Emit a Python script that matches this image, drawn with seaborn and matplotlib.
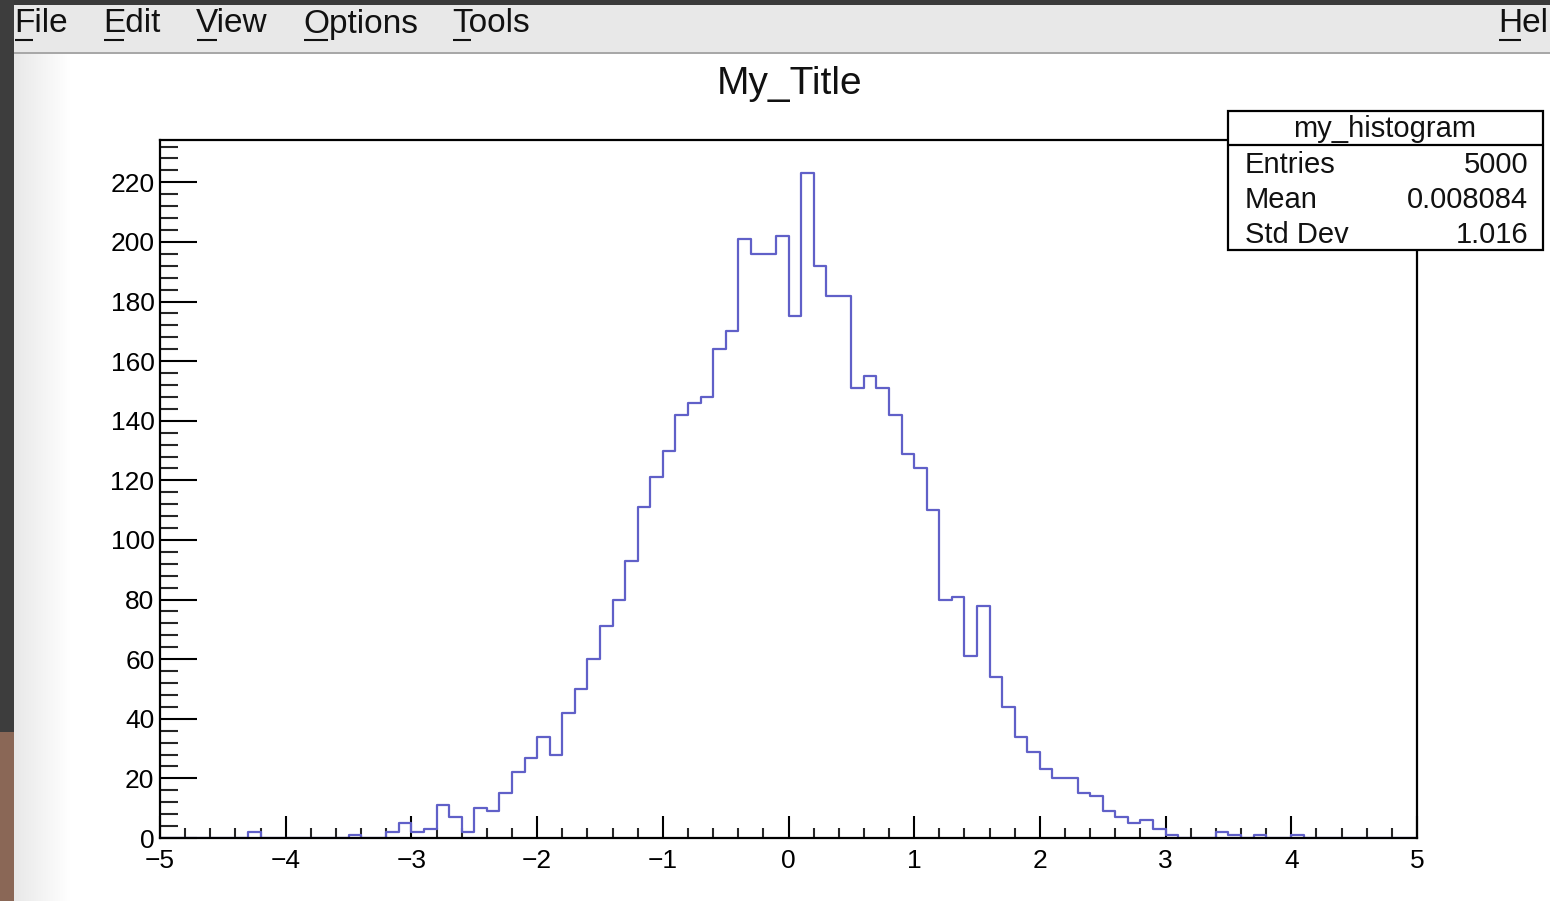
import numpy as np
import pandas as pd
import matplotlib
matplotlib.use('Agg')
import matplotlib.pyplot as plt
import seaborn as sns
from matplotlib.patches import Rectangle
from matplotlib.ticker import MultipleLocator
from matplotlib.colors import LinearSegmentedColormap

# ---------------- data ----------------
x_min, x_max = -5.0, 5.0
n_bins = 100
counts = [
    0, 0, 0, 0, 0, 0, 0, 2, 0, 0,          # -5.0 .. -4.1
    0, 0, 0, 0, 0, 1, 0, 0, 2, 5,          # -4.0 .. -3.1
    2, 3, 11, 7, 2, 10, 9, 15, 22, 27,     # -3.0 .. -2.1
    34, 28, 42, 50, 60, 71, 80, 93, 111, 121,   # -2.0 .. -1.1
    130, 142, 146, 148, 164, 170, 201, 196, 196, 202,  # -1.0 .. -0.1
    175, 223, 192, 182, 182, 151, 155, 151, 142, 129,  # 0.0 .. 0.9
    124, 110, 80, 81, 61, 78, 54, 44, 34, 29,  # 1.0 .. 1.9
    23, 20, 20, 15, 14, 9, 7, 5, 6, 3,     # 2.0 .. 2.9
    1, 0, 0, 0, 2, 1, 0, 1, 0, 0,          # 3.0 .. 3.9
    1, 0, 0, 0, 0, 0, 0, 0, 0, 0,          # 4.0 .. 4.9
]
title = "My_Title"
stats_name = "my_histogram"
stats_labels = ["Entries", "Mean", "Std Dev"]
stats_values = ["5000", "0.008084", "1.016"]
menu_items = ["File", "Edit", "View", "Options", "Tools", "Hel"]
menu_x = [14, 103, 196, 303, 452, 1498]
y_max = 234.2

bin_width = (x_max - x_min) / n_bins
centers = x_min + bin_width * (np.arange(n_bins) + 0.5)
df = pd.DataFrame({"x": centers, "count": counts})

# ---------------- style ----------------
sns.set_style("white")
plt.rcParams['font.family'] = ['Liberation Sans', 'DejaVu Sans']

W, H = 1550, 901
fig = plt.figure(figsize=(W / 100, H / 100), dpi=100)
fig.patch.set_facecolor('white')

# background / window chrome (pixel coordinates)
bg = fig.add_axes([0, 0, 1, 1], zorder=0)
bg.axis('off')
grad = np.linspace(0, 1, 256)[None, :]
cmap = LinearSegmentedColormap.from_list('g', ['#e8e8e8', '#ffffff'])
bg.imshow(grad, extent=[14, 70, H, 54], cmap=cmap, aspect='auto', zorder=0)
bg.set_xlim(0, W)
bg.set_ylim(H, 0)
bg.add_patch(Rectangle((0, 0), W, 54, facecolor='#e8e8e8', edgecolor='none', zorder=1))
bg.add_patch(Rectangle((0, 0), W, 5, facecolor='#3a3a3a', edgecolor='none', zorder=2))
bg.add_patch(Rectangle((0, 51.5), W, 2.5, facecolor='#a8a8a8', edgecolor='none', zorder=2))
bg.add_patch(Rectangle((0, 0), 14, 732, facecolor='#3d3d3d', edgecolor='none', zorder=3))
bg.add_patch(Rectangle((0, 732), 14, H - 732, facecolor='#8a6756', edgecolor='none', zorder=3))

menu_fs = 24
menu_y = 24
for item, mx in zip(menu_items, menu_x):
    bg.text(mx, menu_y, item, ha='left', va='center', fontsize=menu_fs, color='#111111', zorder=4)

bg.text(790, 84, title, ha='center', va='center', fontsize=28, color='#111111', zorder=4)

# main plot area
ax = fig.add_axes([160 / W, (H - 838) / H, (1417 - 160) / W, (838 - 140) / H], zorder=2)
ax.set_facecolor('white')
sns.histplot(data=df, x="x", weights="count", bins=n_bins, binrange=(x_min, x_max),
             element="step", fill=False, color="#6060c8", linewidth=1.6, ax=ax)
ax.set_xlim(x_min, x_max)
ax.set_ylim(0, y_max)
ax.set_xlabel("")
ax.set_ylabel("")
ax.xaxis.set_major_locator(MultipleLocator(1))
ax.xaxis.set_minor_locator(MultipleLocator(0.2))
ax.yaxis.set_major_locator(MultipleLocator(20))
ax.yaxis.set_minor_locator(MultipleLocator(4))
ax.tick_params(axis='y', which='major', direction='in', length=26.5, width=1.5,
               labelsize=19, pad=4, colors='black', left=True, right=False)
ax.tick_params(axis='y', which='minor', direction='in', length=13, width=1.5,
               left=True, right=False)
ax.tick_params(axis='x', which='major', direction='in', length=16, width=1.5,
               labelsize=19, pad=8, colors='black', bottom=True, top=False)
ax.tick_params(axis='x', which='minor', direction='in', length=7.5, width=1.5,
               bottom=True, top=False)
for s in ax.spines.values():
    s.set_color('black')
    s.set_linewidth(1.6)
    s.set_visible(True)

# overlay: stats box
ov = fig.add_axes([0, 0, 1, 1], zorder=5)
ov.set_xlim(0, W)
ov.set_ylim(H, 0)
ov.axis('off')
ov.patch.set_alpha(0)
ov.add_patch(Rectangle((1228, 111), 315, 139, facecolor='white', edgecolor='black', linewidth=1.6))
ov.plot([1228, 1543], [145, 145], color='black', linewidth=1.6)
ov.text(1385, 129, stats_name, ha='center', va='center', fontsize=21, color='#111111')
for i, (lab, val) in enumerate(zip(stats_labels, stats_values)):
    yy = 165 + 35 * i
    ov.text(1245, yy, lab, ha='left', va='center', fontsize=21, color='#111111')
    ov.text(1528, yy, val, ha='right', va='center', fontsize=21, color='#111111')

# menu underlines for the first letters
fig.canvas.draw()
renderer = fig.canvas.get_renderer()
inv = bg.transData.inverted()
for item, mx in zip(menu_items, menu_x):
    tmp = bg.text(mx, menu_y, item[0], ha='left', va='center', fontsize=menu_fs)
    bb = tmp.get_window_extent(renderer)
    tmp.remove()
    (x0, _), (x1, _) = inv.transform([[bb.x0, bb.y0], [bb.x1, bb.y1]])
    bg.plot([x0 + 1, x1 - 1], [40, 40], color='#111111', linewidth=1.5, zorder=5,
            solid_capstyle='butt')
bg.set_xlim(0, W)
bg.set_ylim(H, 0)

fig.savefig('out.png', dpi=100)
